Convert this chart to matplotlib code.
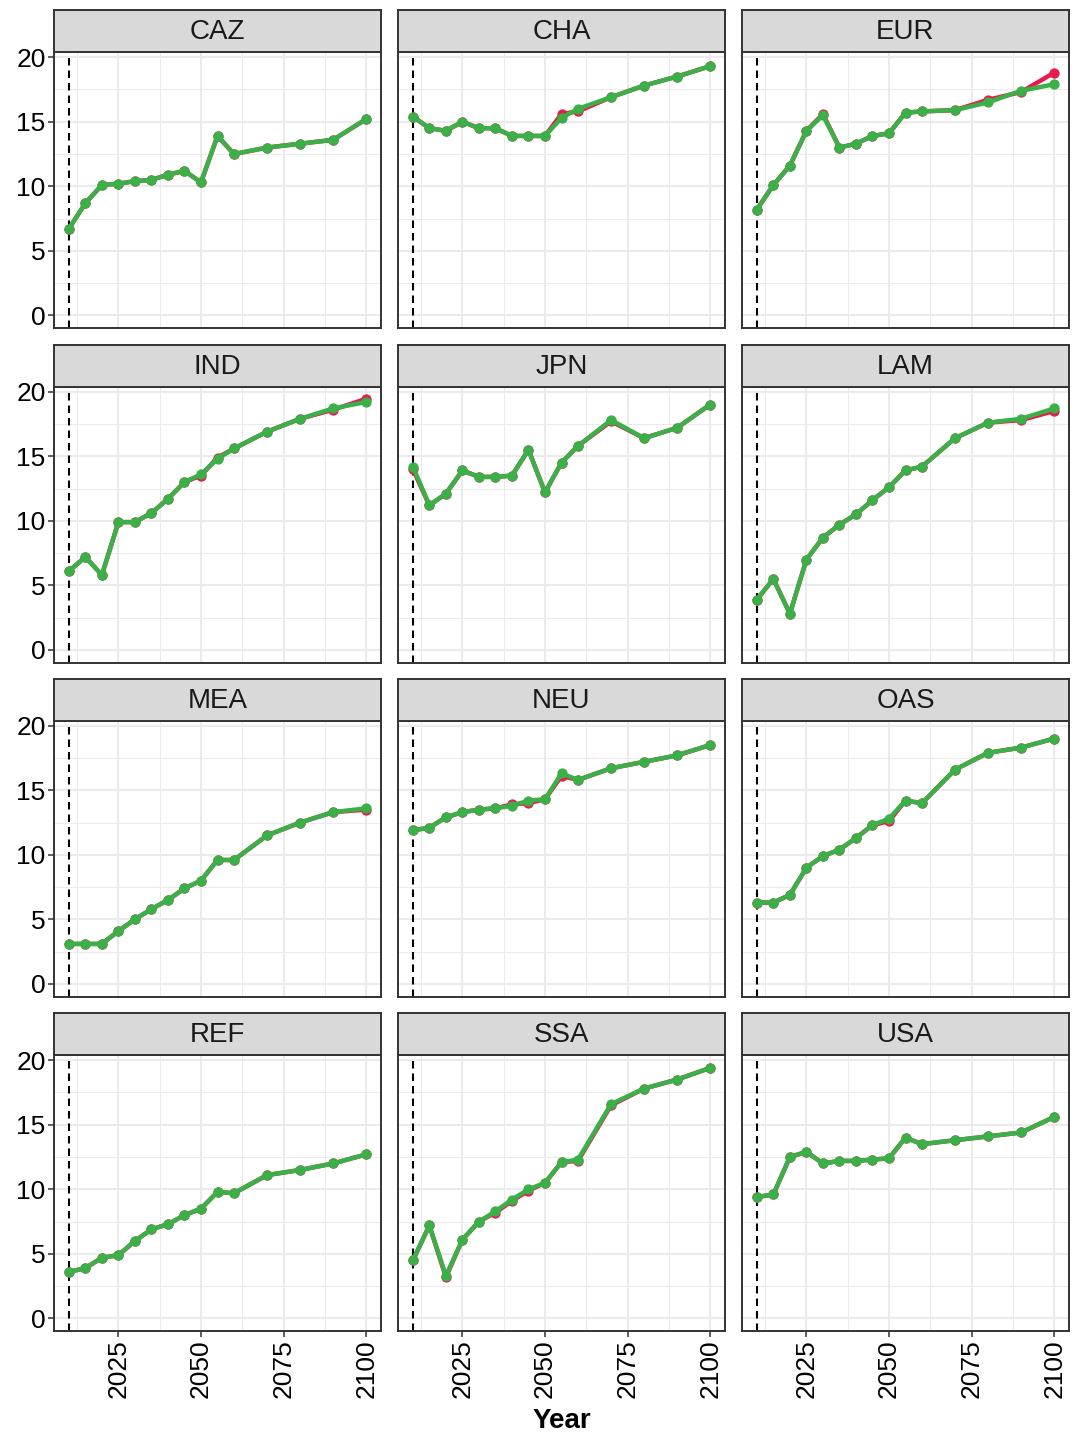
import matplotlib.pyplot as plt
from matplotlib.ticker import FixedLocator

plt.rcParams['font.family'] = ['Liberation Sans', 'DejaVu Sans']

years = [2010, 2015, 2020, 2025, 2030, 2035, 2040, 2045, 2050, 2055, 2060, 2070, 2080, 2090, 2100]
regions = ['CAZ', 'CHA', 'EUR', 'IND', 'JPN', 'LAM', 'MEA', 'NEU', 'OAS', 'REF', 'SSA', 'USA']

# series 1 (red, drawn underneath)
s1_caz = [6.7, 8.7, 10.1, 10.2, 10.4, 10.5, 10.9, 11.2, 10.3, 13.9, 12.5, 13.0, 13.3, 13.6, 15.2]
s1_cha = [15.4, 14.5, 14.3, 15.0, 14.5, 14.5, 13.9, 13.9, 13.9, 15.6, 15.8, 16.9, 17.8, 18.5, 19.3]
s1_eur = [8.2, 10.1, 11.6, 14.3, 15.6, 13.0, 13.3, 13.9, 14.1, 15.7, 15.8, 15.9, 16.7, 17.3, 18.8]
s1_ind = [6.1, 7.2, 5.8, 9.9, 9.9, 10.6, 11.7, 13.0, 13.5, 14.9, 15.6, 16.9, 17.9, 18.6, 19.45]
s1_jpn = [14.0, 11.2, 12.1, 13.9, 13.4, 13.4, 13.5, 15.5, 12.2, 14.5, 15.8, 17.7, 16.4, 17.2, 19.0]
s1_lam = [3.9, 5.5, 2.8, 7.0, 8.7, 9.7, 10.5, 11.6, 12.6, 13.9, 14.2, 16.4, 17.6, 17.8, 18.5]
s1_mea = [3.1, 3.1, 3.1, 4.1, 5.0, 5.8, 6.5, 7.4, 8.0, 9.6, 9.6, 11.5, 12.5, 13.3, 13.5]
s1_neu = [11.9, 12.1, 12.9, 13.3, 13.5, 13.6, 13.9, 14.0, 14.3, 16.1, 15.8, 16.7, 17.2, 17.7, 18.5]
s1_oas = [6.3, 6.3, 6.9, 9.0, 9.9, 10.4, 11.3, 12.3, 12.6, 14.2, 14.0, 16.6, 17.9, 18.3, 19.0]
s1_ref = [3.6, 3.9, 4.7, 4.9, 6.0, 6.9, 7.3, 8.0, 8.5, 9.8, 9.7, 11.1, 11.5, 12.0, 12.7]
s1_ssa = [4.5, 7.2, 3.2, 6.1, 7.5, 8.2, 9.1, 9.9, 10.5, 12.1, 12.2, 16.5, 17.8, 18.5, 19.4]
s1_usa = [9.4, 9.6, 12.5, 12.9, 12.0, 12.2, 12.2, 12.3, 12.4, 14.0, 13.5, 13.8, 14.1, 14.4, 15.6]

# series 2 (green, drawn on top)
s2_caz = [6.7, 8.7, 10.1, 10.2, 10.4, 10.5, 10.9, 11.2, 10.3, 13.9, 12.5, 13.0, 13.3, 13.6, 15.2]
s2_cha = [15.4, 14.5, 14.3, 15.0, 14.5, 14.5, 13.9, 13.9, 13.9, 15.3, 16.0, 16.9, 17.8, 18.5, 19.3]
s2_eur = [8.2, 10.1, 11.6, 14.3, 15.5, 13.0, 13.3, 13.9, 14.1, 15.7, 15.8, 15.9, 16.5, 17.4, 17.9]
s2_ind = [6.1, 7.2, 5.8, 9.9, 9.9, 10.6, 11.7, 13.0, 13.6, 14.8, 15.6, 16.9, 17.9, 18.7, 19.2]
s2_jpn = [14.2, 11.2, 12.1, 13.9, 13.4, 13.4, 13.5, 15.5, 12.2, 14.5, 15.8, 17.8, 16.4, 17.2, 19.0]
s2_lam = [3.9, 5.5, 2.8, 7.0, 8.7, 9.7, 10.5, 11.6, 12.6, 13.9, 14.2, 16.4, 17.6, 17.9, 18.7]
s2_mea = [3.1, 3.1, 3.1, 4.1, 5.0, 5.8, 6.5, 7.4, 8.0, 9.6, 9.6, 11.5, 12.5, 13.3, 13.6]
s2_neu = [11.9, 12.1, 12.9, 13.3, 13.5, 13.6, 13.8, 14.2, 14.3, 16.3, 15.8, 16.7, 17.2, 17.7, 18.5]
s2_oas = [6.3, 6.3, 6.9, 9.0, 9.9, 10.4, 11.3, 12.3, 12.8, 14.2, 14.0, 16.6, 17.9, 18.3, 19.0]
s2_ref = [3.6, 3.9, 4.7, 4.9, 6.0, 6.9, 7.3, 8.0, 8.5, 9.8, 9.7, 11.1, 11.5, 12.0, 12.7]
s2_ssa = [4.5, 7.2, 3.3, 6.1, 7.5, 8.3, 9.2, 10.0, 10.5, 12.1, 12.3, 16.6, 17.8, 18.5, 19.4]
s2_usa = [9.4, 9.6, 12.5, 12.9, 12.0, 12.2, 12.2, 12.3, 12.4, 14.0, 13.5, 13.8, 14.1, 14.4, 15.6]

series1 = [s1_caz, s1_cha, s1_eur, s1_ind, s1_jpn, s1_lam, s1_mea, s1_neu, s1_oas, s1_ref, s1_ssa, s1_usa]
series2 = [s2_caz, s2_cha, s2_eur, s2_ind, s2_jpn, s2_lam, s2_mea, s2_neu, s2_oas, s2_ref, s2_ssa, s2_usa]

base_year = 2010
y_ticks = [0, 5, 10, 15, 20]
x_ticks = [2025, 2050, 2075, 2100]

RED = '#E8194B'
GREEN = '#3BAF48'
DARK = '#333333'
GRID = '#EBEBEB'

# Figure laid out in pixels
W, H = 1073, 1436
fig = plt.figure(figsize=(W / 100, H / 100), dpi=100)

col_x = [54, 398, 742]
row_top = [52, 386.5, 720.5, 1055]
panel_w, panel_h, strip_h = 327, 276, 42


def px_rect(x, top, w, h):
    return [x / W, 1 - (top + h) / H, w / W, h / H]


for i, region in enumerate(regions):
    r, c = divmod(i, 3)
    ax = fig.add_axes(px_rect(col_x[c], row_top[r], panel_w, panel_h))
    ax.set_xlim(2005.5, 2104.5)
    ax.set_ylim(-0.97, 20.4)

    ax.xaxis.set_major_locator(FixedLocator(x_ticks))
    ax.xaxis.set_minor_locator(FixedLocator([2012.5, 2037.5, 2062.5, 2087.5]))
    ax.yaxis.set_major_locator(FixedLocator(y_ticks))
    ax.yaxis.set_minor_locator(FixedLocator([2.5, 7.5, 12.5, 17.5]))
    ax.grid(which='major', color=GRID, lw=1.5, zorder=0)
    ax.grid(which='minor', color=GRID, lw=0.75, zorder=0)
    ax.set_axisbelow(True)

    ax.axvline(base_year, color='black', lw=1.5, ls=(0, (3.6, 2.4)), zorder=1)
    ax.plot(years, series1[i], color=RED, lw=3.2, marker='o', ms=6.4, zorder=2)
    ax.plot(years, series2[i], color=GREEN, lw=3.2, marker='o', ms=6.4, zorder=3)

    for s in ax.spines.values():
        s.set_color(DARK)
        s.set_linewidth(1.4)
        s.set_zorder(5)

    ax.tick_params(which='minor', length=0)
    ax.tick_params(which='major', length=4, width=1.1, color=DARK,
                   labelsize=19, labelcolor='black', pad=2)
    if c == 0:
        ax.set_yticklabels([str(v) for v in y_ticks])
    else:
        ax.tick_params(axis='y', length=0, labelleft=False)
    if r == 3:
        ax.set_xticklabels([str(v) for v in x_ticks], rotation=90)
    else:
        ax.tick_params(axis='x', length=0, labelbottom=False)

    # facet strip
    sax = fig.add_axes(px_rect(col_x[c], row_top[r] - strip_h, panel_w, strip_h))
    sax.set_facecolor('#D9D9D9')
    sax.set_xticks([])
    sax.set_yticks([])
    for s in sax.spines.values():
        s.set_color(DARK)
        s.set_linewidth(1.4)
    sax.text(0.5, 0.47, region, ha='center', va='center', fontsize=20,
             color='#1A1A1A', transform=sax.transAxes)

fig.text((54 + 1069) / 2 / W, 1 - 1421 / H, 'Year', ha='center', va='center',
         fontsize=20, fontweight='bold')

fig.savefig('out.png', dpi=100)
